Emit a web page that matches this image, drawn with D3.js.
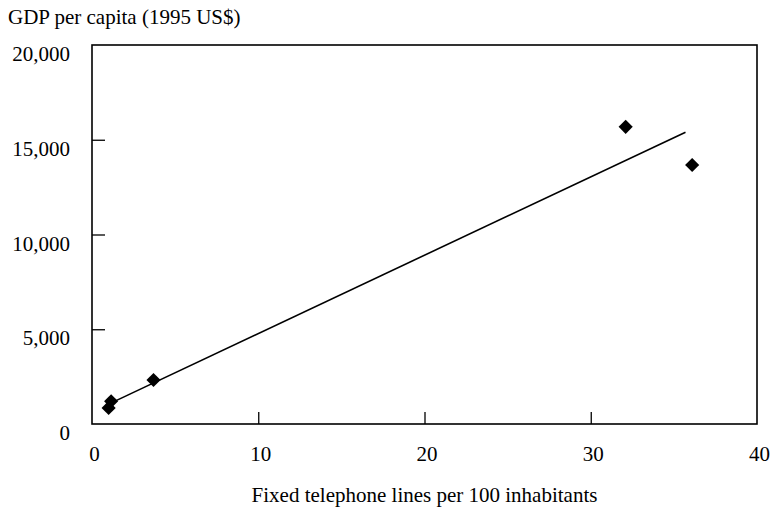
<!DOCTYPE html>
<html>
<head>
<meta charset="utf-8">
<script src="https://cdn.jsdelivr.net/npm/d3@7"></script>
<style>
  body { margin: 0; background: #fff; }
  text { font-family: "Liberation Serif", "Times New Roman", serif; fill: #000; }
</style>
</head>
<body>
<svg class="chart"></svg>
<script>
// data
var phoneLines = [1.0, 1.15, 3.7, 32.1, 36.1];
var gdpPerCapita = [850, 1200, 2320, 15680, 13670];
var trendX = [1.0, 35.7];
var trendY = [1050, 15400];
var xTicks = [0, 10, 20, 30, 40];
var yTicks = [0, 5000, 10000, 15000, 20000];

var width = 780, height = 511;
var margin = {top: 45, right: 23, bottom: 87, left: 92};
var chartWidth = width - margin.left - margin.right;
var chartHeight = height - margin.top - margin.bottom;

var svg = d3.select(".chart").attr("width", width).attr("height", height);
var chart = svg.append("g").attr("transform", "translate(" + margin.left + "," + margin.top + ")");

var x = d3.scaleLinear().domain([0, 40]).range([0, chartWidth]);
var y = d3.scaleLinear().domain([0, 20000]).range([chartHeight, 0]);

// frame
chart.append("rect")
  .attr("x", 0).attr("y", 0)
  .attr("width", chartWidth).attr("height", chartHeight)
  .attr("fill", "none").attr("stroke", "#000").attr("stroke-width", 1.6);

// x axis, ticks point inward
var xAxis = chart.append("g")
  .attr("transform", "translate(0," + chartHeight + ")")
  .call(d3.axisBottom(x).tickValues(xTicks).tickSizeInner(-12).tickSizeOuter(0).tickPadding(22)
    .tickFormat(d3.format("d")));
xAxis.select(".domain").remove();
xAxis.selectAll(".tick line").attr("stroke-width", 1.3)
  .filter(function(d) { return d === 0 || d === 40; }).remove();
xAxis.selectAll(".tick text").attr("font-size", 21).attr("font-family", "Liberation Serif").attr("dx", 2);

// y axis
var yAxis = chart.append("g")
  .call(d3.axisLeft(y).tickValues(yTicks).tickSizeInner(-13).tickSizeOuter(0).tickPadding(22)
    .tickFormat(d3.format(",")));
yAxis.select(".domain").remove();
yAxis.selectAll(".tick line").attr("stroke-width", 1.3)
  .filter(function(d) { return d === 0 || d === 20000; }).remove();
yAxis.selectAll(".tick text").attr("font-size", 21).attr("font-family", "Liberation Serif").attr("dy", "0.32em")
  .attr("transform", "translate(0,9)");

// trend line
var line = d3.line().x(function(d) { return x(d[0]); }).y(function(d) { return y(d[1]); });
chart.append("path")
  .datum(d3.zip(trendX, trendY))
  .attr("d", line)
  .attr("fill", "none").attr("stroke", "#000").attr("stroke-width", 1.6);

// diamonds
var diamond = d3.symbol().type(d3.symbolSquare).size(100);
chart.selectAll(".pt")
  .data(d3.zip(phoneLines, gdpPerCapita))
  .enter().append("path")
  .attr("class", "pt")
  .attr("d", diamond)
  .attr("transform", function(d) { return "translate(" + x(d[0]) + "," + y(d[1]) + ") rotate(45)"; })
  .attr("fill", "#000");

// titles
svg.append("text")
  .attr("x", 8).attr("y", 24)
  .attr("font-size", 21)
  .text("GDP per capita (1995 US$)");

svg.append("text")
  .attr("x", margin.left + chartWidth / 2).attr("y", 502)
  .attr("text-anchor", "middle")
  .attr("font-size", 21)
  .text("Fixed telephone lines per 100 inhabitants");
</script>
</body>
</html>
